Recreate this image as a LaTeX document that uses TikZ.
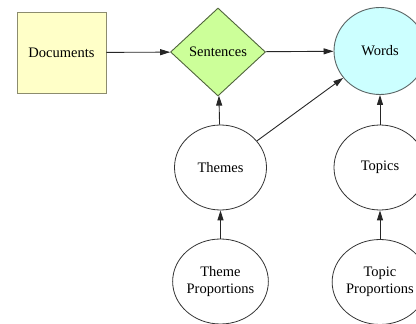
\documentclass[tikz,border=0pt]{standalone}
\usepackage{fontspec}
\setmainfont{Liberation Serif}
\usetikzlibrary{shapes.geometric,arrows.meta}
\definecolor{docfill}{RGB}{255,255,200}
\definecolor{docdraw}{RGB}{140,140,110}
\definecolor{sentfill}{RGB}{204,255,153}
\definecolor{sentdraw}{RGB}{80,100,60}
\definecolor{wordfill}{RGB}{204,255,255}
\definecolor{worddraw}{RGB}{90,100,100}
\tikzset{
  lbl/.style={font=\fontsize{14.5}{16}\selectfont, align=center, inner sep=0pt},
  docbox/.style={lbl, rectangle, draw=docdraw, fill=docfill, line width=0.9pt, minimum width=89pt, minimum height=81pt},
  sentbox/.style={lbl, diamond, aspect=1, draw=sentdraw, fill=sentfill, line width=0.9pt, minimum width=95pt, minimum height=88pt},
  wordbox/.style={lbl, ellipse, draw=worddraw, fill=wordfill, line width=0.9pt, minimum width=92pt, minimum height=87pt},
  latent/.style={lbl, ellipse, draw=black!80, fill=white, line width=0.8pt, minimum width=92pt, minimum height=85pt},
  conn/.style={draw=black!85, line width=0.9pt, -{Triangle[length=10pt,width=6pt]}}
}
\begin{document}
\begin{tikzpicture}[x=1pt,y=-1pt]
\useasboundingbox (0,0) rectangle (416,324);
\node[docbox] (doc) at (61.5,52.5) {Documents};
\node[sentbox] (sent) at (218,52) {Sentences};
\node[wordbox] (words) at (380,51) {Words};
\node[latent] (themes) at (220.5,167.5) {Themes};
\node[latent] (topics) at (380,167.5) {Topics};
\node[latent] (tprop) at (220.5,281.5) {Theme\\[1pt]Proportions};
\node[latent] (oprop) at (380,282) {Topic\\[1pt]Proportions};
\draw[conn] (doc) -- (sent);
\draw[conn] (sent) -- (words);
\draw[conn] (themes) -- (sent);
\draw[conn] (themes) -- (words);
\draw[conn] (topics) -- (words);
\draw[conn] (tprop) -- (themes);
\draw[conn] (oprop) -- (topics);
\end{tikzpicture}
\end{document}
